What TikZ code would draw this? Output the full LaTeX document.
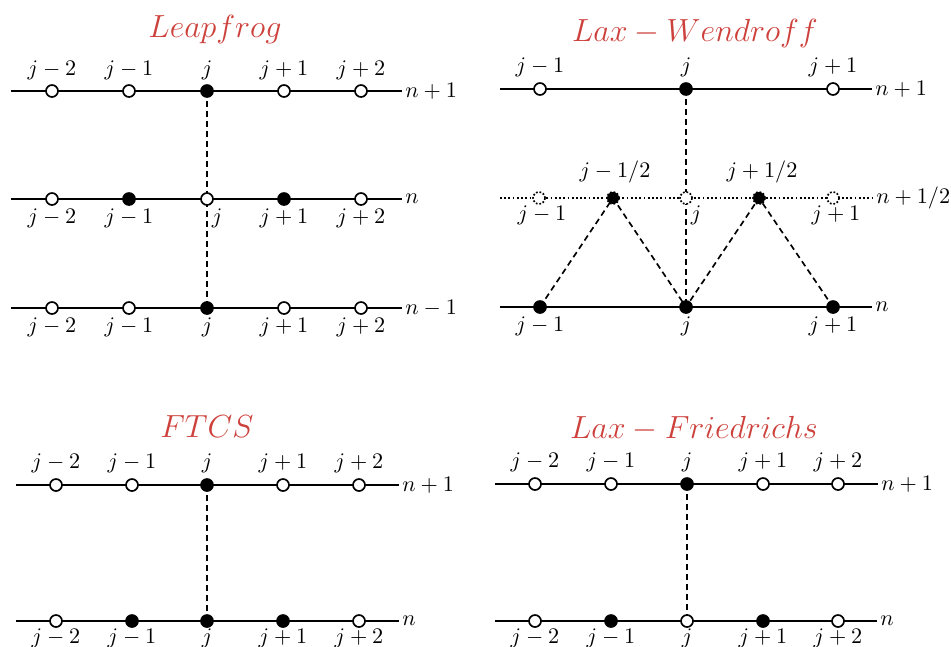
\documentclass[tikz,border=0pt]{standalone}
\usetikzlibrary{calc,backgrounds}
\definecolor{titlered}{RGB}{205,65,60}
\tikzset{
  x=0.45pt, y=-0.45pt,
  pt/.style={circle,inner sep=0pt,minimum size=5.4pt,line width=0.75pt,draw=black},
  open/.style={pt,fill=white},
  full/.style={pt,fill=black},
  dopen/.style={pt,fill=white,dash pattern=on 0.8pt off 0.8pt},
  dfull/.style={pt,fill=black,dash pattern=on 0.8pt off 0.8pt},
  gridline/.style={line width=0.75pt},
  dotline/.style={line width=0.75pt,dash pattern=on 0.8pt off 1.1pt},
  conn/.style={line width=0.75pt,dash pattern=on 2.7pt off 1.8pt},
  lab/.style={anchor=base,inner sep=0pt},
  rowlab/.style={anchor=west,inner sep=1.3pt},
  title/.style={anchor=base,text=titlered,font=\Large},
}
\begin{document}
\begin{tikzpicture}
\useasboundingbox (0,0) rectangle (951,647);

% ---------------- Leapfrog ----------------
\node[title] (t1) at (215,37) {$Leapfrog$};
\coordinate (a1s) at (11,91);  \node[rowlab] (a1e) at (402,91)  {$n+1$};
\coordinate (a2s) at (11,199); \node[rowlab] (a2e) at (402,199) {$n$};
\coordinate (a3s) at (11,308); \node[rowlab] (a3e) at (402,308) {$n-1$};
\foreach \i/\x/\t/\l in {1/52/open/j-2,2/129/open/j-1,3/207/full/j,4/284/open/j+1,5/361/open/j+2}{
  \node[\t] (a1-\i) at (\x,91) {};
  \node[lab] (a1l-\i) at ($(a1-\i)+(0,-16)$) {$\l$};
}
\foreach \i/\x/\t/\l/\s in {1/52/open/j-2/0,2/129/full/j-1/0,3/207/open/j/10,4/284/full/j+1/0,5/361/open/j+2/0}{
  \node[\t] (a2-\i) at (\x,199) {};
  \node[lab] (a2l-\i) at ($(a2-\i)+(\s,24)$) {$\l$};
}
\foreach \i/\x/\t/\l in {1/52/open/j-2,2/129/open/j-1,3/207/full/j,4/284/open/j+1,5/361/open/j+2}{
  \node[\t] (a3-\i) at (\x,308) {};
  \node[lab] (a3l-\i) at ($(a3-\i)+(0,24)$) {$\l$};
}

% ---------------- Lax-Wendroff ----------------
\node[title] (t2) at (695,42) {$Lax-Wendroff$};
\coordinate (b1s) at (500,89);  \node[rowlab] (b1e) at (872,89)  {$n+1$};
\coordinate (b2s) at (500,198); \node[rowlab] (b2e) at (873,198) {$n+1/2$};
\coordinate (b3s) at (500,307); \node[rowlab] (b3e) at (872,307) {$n$};
\foreach \i/\x/\t/\l in {1/540/open/j-1,2/686/full/j,3/833/open/j+1}{
  \node[\t] (b1-\i) at (\x,89) {};
  \node[lab] (b1l-\i) at ($(b1-\i)+(0,-16)$) {$\l$};
}
\node[dopen] (b2-1) at (539,198) {};
\node[dfull] (b2-2) at (613,198) {};
\node[dopen] (b2-3) at (686,198) {};
\node[dfull] (b2-4) at (759,198) {};
\node[dopen] (b2-5) at (833,198) {};
\node[lab] (b2l-1) at ($(b2-1)+(3,22)$) {$j-1$};
\node[lab] (b2l-2) at ($(b2-2)+(2,-21)$) {$j-1/2$};
\node[lab] (b2l-3) at ($(b2-3)+(10,22)$) {$j$};
\node[lab] (b2l-4) at ($(b2-4)+(3,-21)$) {$j+1/2$};
\node[lab] (b2l-5) at ($(b2-5)+(3,22)$) {$j+1$};
\foreach \i/\x/\l in {1/540/j-1,2/686/j,3/833/j+1}{
  \node[full] (b3-\i) at (\x,307) {};
  \node[lab] (b3l-\i) at ($(b3-\i)+(0,24)$) {$\l$};
}

% ---------------- FTCS ----------------
\node[title] (t3) at (207,437) {$FTCS$};
\coordinate (c1s) at (16,485); \node[rowlab] (c1e) at (399,485) {$n+1$};
\coordinate (c2s) at (16,621); \node[rowlab] (c2e) at (399,621) {$n$};
\foreach \i/\x/\t/\l in {1/56/open/j-2,2/132/open/j-1,3/207/full/j,4/283/open/j+1,5/359/open/j+2}{
  \node[\t] (c1-\i) at (\x,485) {};
  \node[lab] (c1l-\i) at ($(c1-\i)+(0,-17)$) {$\l$};
}
\foreach \i/\x/\t/\l in {1/56/open/j-2,2/132/full/j-1,3/207/full/j,4/283/full/j+1,5/359/open/j+2}{
  \node[\t] (c2-\i) at (\x,621) {};
  \node[lab] (c2l-\i) at ($(c2-\i)+(0,22)$) {$\l$};
}

% ---------------- Lax-Friedrichs ----------------
\node[title] (t4) at (694,438) {$Lax-Friedrichs$};
\coordinate (d1s) at (495,484); \node[rowlab] (d1e) at (878,484) {$n+1$};
\coordinate (d2s) at (495,621); \node[rowlab] (d2e) at (877,621) {$n$};
\foreach \i/\x/\t/\l in {1/535/open/j-2,2/611/open/j-1,3/687/full/j,4/763/open/j+1,5/838/open/j+2}{
  \node[\t] (d1-\i) at (\x,484) {};
  \node[lab] (d1l-\i) at ($(d1-\i)+(0,-17)$) {$\l$};
}
\foreach \i/\x/\t/\l in {1/535/open/j-2,2/611/full/j-1,3/687/open/j,4/763/full/j+1,5/838/open/j+2}{
  \node[\t] (d2-\i) at (\x,621) {};
  \node[lab] (d2l-\i) at ($(d2-\i)+(0,22)$) {$\l$};
}

% ---------------- lines (behind points) ----------------
\begin{scope}[on background layer]
  \draw[gridline] (a1s) -- (a1e.west);
  \draw[gridline] (a2s) -- (a2e.west);
  \draw[gridline] (a3s) -- (a3e.west);
  \draw[conn] (a1-3.center) -- (a3-3.center);

  \draw[gridline] (b1s) -- (b1e.west);
  \draw[dotline]  (b2s) -- (b2e.west);
  \draw[gridline] (b3s) -- (b3e.west);
  \draw[conn] (b1-2.center) -- (b3-2.center);
  \draw[conn] (b3-1.center) -- (b2-2.center) -- (b3-2.center) -- (b2-4.center) -- (b3-3.center);

  \draw[gridline] (c1s) -- (c1e.west);
  \draw[gridline] (c2s) -- (c2e.west);
  \draw[conn] (c1-3.center) -- (c2-3.center);

  \draw[gridline] (d1s) -- (d1e.west);
  \draw[gridline] (d2s) -- (d2e.west);
  \draw[conn] (d1-3.center) -- (d2-3.center);
\end{scope}
\end{tikzpicture}
\end{document}
